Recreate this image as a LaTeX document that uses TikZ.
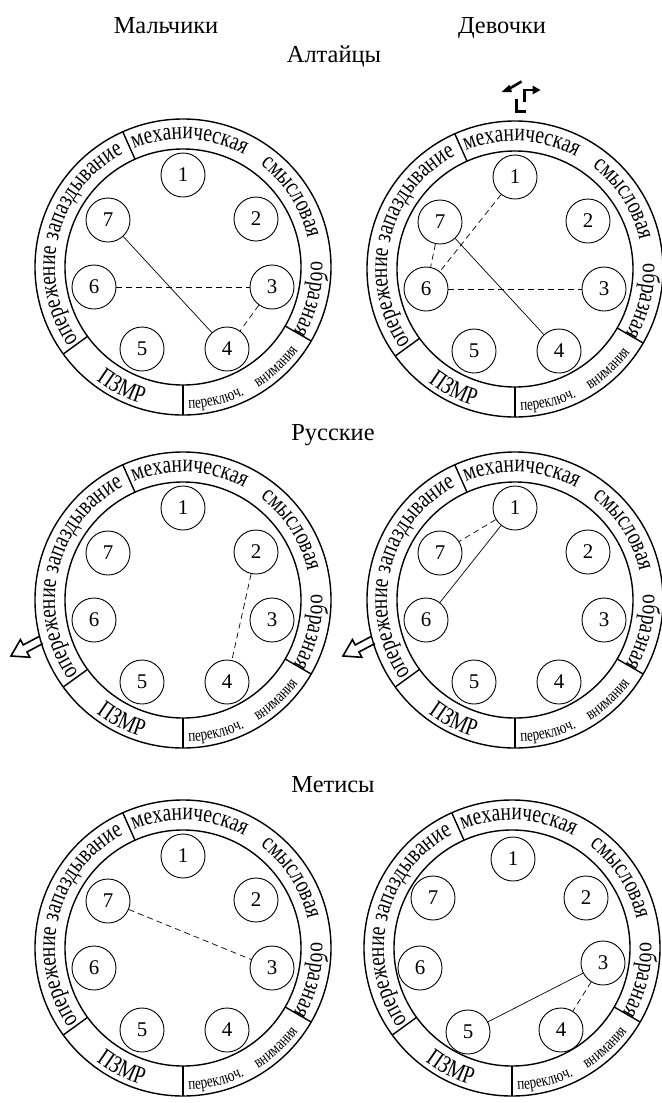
\documentclass[tikz,border=0pt]{standalone}
\usepackage{fontspec}
\setmainfont{Liberation Serif}
\newfontfamily\condfont[FakeStretch=0.78]{Liberation Serif}
\usetikzlibrary{decorations.text}

\newcommand\labfont{\condfont\fontsize{25}{25}\selectfont}
\newcommand\smlfont{\condfont\fontsize{17}{17}\selectfont}

% text along a clockwise arc, tops outward
\newcommand\outlab[3]{%
  \path[decorate,decoration={text along path,text align=center,text={|\labfont|#3}}]
    (#1:128) arc[start angle=#1,end angle=#2,radius=128];}
% text along a counterclockwise arc, tops inward
\newcommand\inlab[4]{%
  \path[decorate,decoration={text along path,text align=center,text={#4}}]
    (#1:#3) arc[start angle=#1,end angle=#2,radius=#3];}

\def\xA{0}\def\yA{92}
\def\xB{73}\def\yB{48}
\def\xC{89}\def\yC{-20}
\def\xD{44}\def\yD{-82}
\def\xE{-41}\def\yE{-82}
\def\xF{-89}\def\yF{-20}
\def\xG{-75}\def\yG{47}

\newcommand\cogdiagram[3]{%
  \begin{scope}[shift={(#2,-#3)}]
    \draw[ringline] (0,0) circle[radius=148];
    \draw[ringline] (0,0) circle[radius=118];
    \foreach \a in {114,216,270,330} \draw[ringline] (\a:118) -- (\a:148);
    \outlab{127}{47}{механическая}
    \outlab{73}{-7}{смысловая}
    \outlab{26}{-54}{образная}
    \outlab{233}{153}{опережение}
    \outlab{183}{103}{запаздывание}
    \inlab{213}{273}{143}{|\labfont|ПЗМР}
    \inlab{-96}{-56}{142}{|\smlfont|переключ.}
    \inlab{-67}{-27}{142}{|\smlfont|внимания}
    \node[num] (#1-1) at (\xA,\yA) {1};
    \node[num] (#1-2) at (\xB,\yB) {2};
    \node[num] (#1-3) at (\xC,\yC) {3};
    \node[num] (#1-4) at (\xD,\yD) {4};
    \node[num] (#1-5) at (\xE,\yE) {5};
    \node[num] (#1-6) at (\xF,\yF) {6};
    \node[num] (#1-7) at (\xG,\yG) {7};
  \end{scope}}

\begin{document}
\begin{tikzpicture}[x=1bp,y=1bp,
  ringline/.style={line width=1.4bp},
  num/.style={circle,draw,line width=0.9bp,minimum size=44bp,inner sep=0pt,
    font=\fontsize{21}{21}\selectfont},
  link/.style={line width=0.7bp},
  dlink/.style={line width=0.7bp,dash pattern=on 6bp off 4bp},
  title/.style={font=\fontsize{24.5}{24.5}\selectfont,anchor=base,inner sep=0pt},
  hollow/.style={line width=1.6bp,line join=miter},
  symline/.style={line width=2.6bp}]
\useasboundingbox (0,0) rectangle (662,-1103);

% titles
\node[title] (boys) at (166,-33) {Мальчики};
\node[title] (girls) at (502,-33) {Девочки};
\node[title] (alt) at (334,-62) {Алтайцы};
\node[title] (rus) at (333,-440) {Русские};
\node[title] (met) at (333,-792) {Метисы};

% diagrams
\cogdiagram{tl}{183}{267}
\cogdiagram{tr}{515}{269}
\cogdiagram{ml}{183}{600}
\cogdiagram{mr}{515}{600}
\cogdiagram{bl}{183}{948}
\begingroup
\def\xA{1}\def\yA{89}
\def\xB{74}\def\yB{50}
\def\xC{91}\def\yC{-15}
\def\xD{49}\def\yD{-82}
\def\xE{-44}\def\yE{-84}
\def\xF{-92}\def\yF{-20}
\def\xG{-79}\def\yG{50}
\cogdiagram{br}{512}{948}
\endgroup

% connectors
\draw[link] (tl-7) -- (tl-4);
\draw[dlink] (tl-6) -- (tl-3);
\draw[dlink] (tl-3) -- (tl-4);

\draw[dlink] (tr-1) -- (tr-6);
\draw[dlink] (tr-7) -- (tr-6);
\draw[link] (tr-7) -- (tr-4);
\draw[dlink] (tr-6) -- (tr-3);

\draw[dlink] (ml-2) -- (ml-4);

\draw[dlink] (mr-1) -- (mr-7);
\draw[link] (mr-1) -- (mr-6);

\draw[dlink] (bl-7) -- (bl-3);

\draw[link] (br-3) -- (br-5);
\draw[dlink] (br-3) -- (br-4);

% symbol above top-right diagram
\draw[symline] (516.5,-98.5) -- (516.5,-111.5) -- (525.5,-111.5);
\draw[symline] (524.5,-102) -- (524.5,-90) -- (533,-90);
\fill (532.5,-85.5) -- (540.5,-90) -- (532.5,-94.5) -- cycle;
\draw[symline] (521.5,-81.5) -- (508.5,-89.2);
\fill (509.5,-84.8) -- (501.5,-92) -- (512,-92.2) -- cycle;

% hollow arrows
\begin{scope}[shift={(41,-640)},rotate=208]
  \draw[hollow] (0,4) -- (18,4) -- (18,10) -- (34,0) -- (18,-10) -- (18,-4) -- (0,-4);
\end{scope}
\begin{scope}[shift={(373,-640)},rotate=208]
  \draw[hollow] (0,4) -- (18,4) -- (18,10) -- (34,0) -- (18,-10) -- (18,-4) -- (0,-4);
\end{scope}
\end{tikzpicture}
\end{document}
